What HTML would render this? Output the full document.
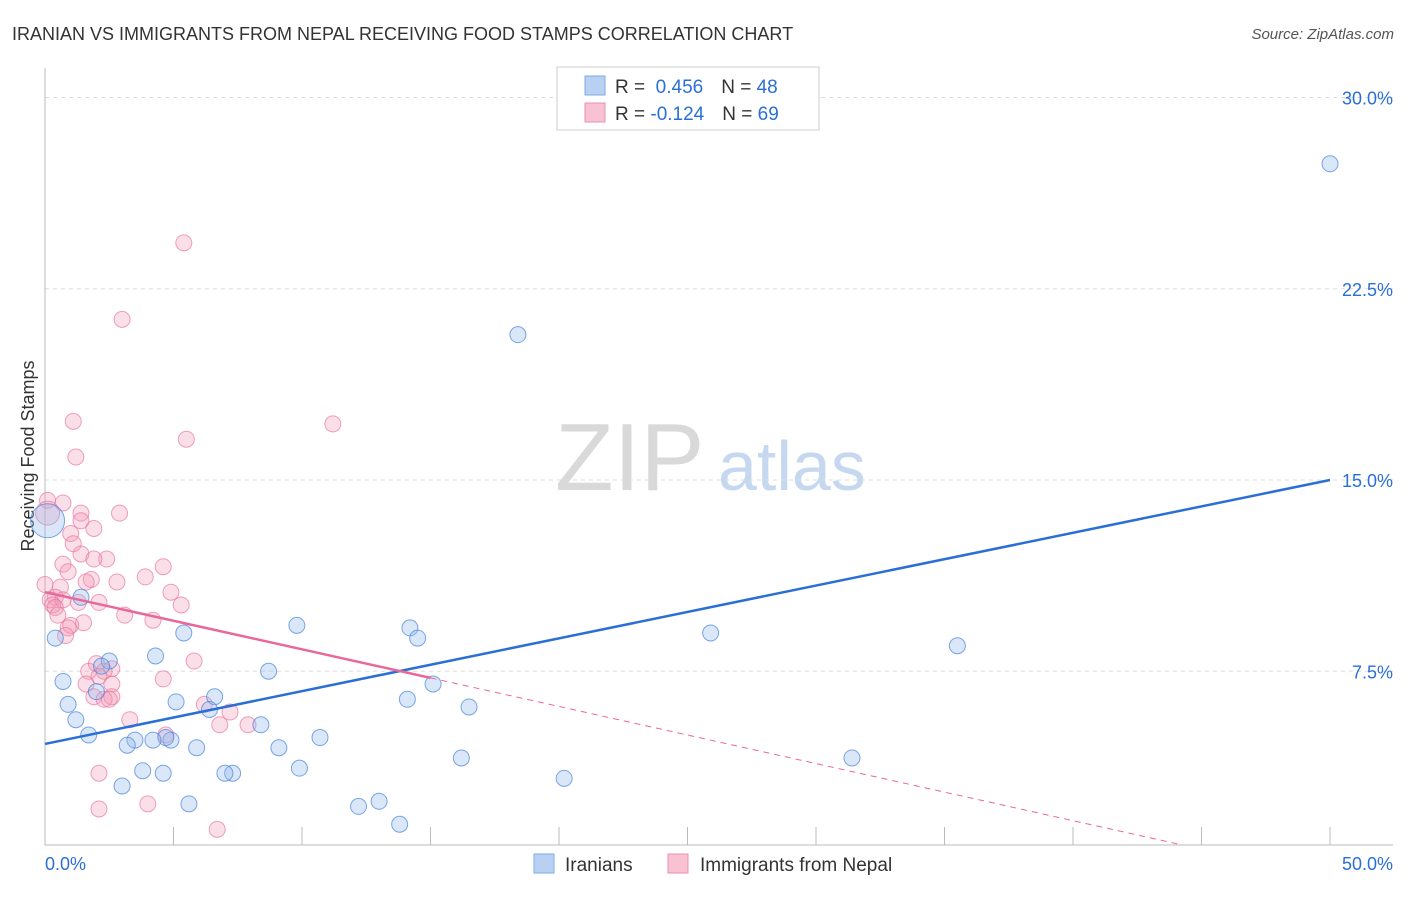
<!DOCTYPE html>
<html><head><meta charset="utf-8"><style>
body{margin:0;background:#fff;font-family:"Liberation Sans",sans-serif;}
svg text{font-family:"Liberation Sans",sans-serif;}
</style></head><body>
<svg id="chart" width="1406" height="892">
<text x="12" y="40" font-size="18" fill="#333">IRANIAN VS IMMIGRANTS FROM NEPAL RECEIVING FOOD STAMPS CORRELATION CHART</text>
<text x="1394" y="39" font-size="15" fill="#555" font-style="italic" text-anchor="end">Source: ZipAtlas.com</text>
<text x="555" y="490" font-size="96" fill="#d9d9d9" font-family="Liberation Serif">ZIP</text>
<text x="718" y="490" font-size="70" fill="#c6d8f0">atlas</text>
<text transform="translate(34,456) rotate(-90)" font-size="18" fill="#333" text-anchor="middle">Receiving Food Stamps</text>
<g id="grid"></g><g id="axes"></g><g id="pts"></g><g id="lines"></g>
<g>
<rect x="557" y="67" width="262" height="63" fill="#fff" stroke="#ccc"/>
<rect x="585" y="76" width="20" height="19" fill="#b8d0f2" stroke="#7fa8e0"/>
<rect x="585" y="103" width="20" height="19" fill="#f8c2d3" stroke="#ec8fb0"/>
<text x="615" y="93" font-size="19" fill="#333">R = <tspan fill="#2a6fd6">&#160;0.456</tspan><tspan dx="18">N = </tspan><tspan fill="#2a6fd6">48</tspan></text>
<text x="615" y="120" font-size="19" fill="#333">R = <tspan fill="#2a6fd6">-0.124</tspan><tspan dx="18">N = </tspan><tspan fill="#2a6fd6">69</tspan></text>
</g>
<g>
<rect x="534" y="854" width="20" height="19" fill="#b8d0f2" stroke="#7fa8e0"/>
<text x="565" y="871" font-size="19" fill="#333">Iranians</text>
<rect x="668" y="854" width="20" height="19" fill="#f8c2d3" stroke="#ec8fb0"/>
<text x="700" y="871" font-size="19" fill="#333">Immigrants from Nepal</text>
</g>
</svg>
<script>
const yTicks=[7.5,15,22.5,30];
const yTickLabels=["7.5%","15.0%","22.5%","30.0%"];
const xTicks=[0,5,10,15,20,25,30,35,40,45,50];
const iranX=[50.0,18.4,35.5,25.9,31.4,20.2,16.2,16.5,15.1,14.1,14.2,14.5,13.8,13.0,12.2,10.7,9.9,9.8,9.1,8.4,8.7,7.3,7.0,6.6,6.4,5.9,5.6,5.1,5.4,4.6,4.3,4.9,4.7,4.2,3.8,3.5,3.2,3.0,2.5,2.2,2.0,1.7,1.2,0.9,0.7,0.4,1.4,0.1];
const iranY=[27.4,20.7,8.5,9.0,4.1,3.3,4.1,6.1,7.0,6.4,9.2,8.8,1.5,2.4,2.2,4.9,3.7,9.3,4.5,5.4,7.5,3.5,3.5,6.5,6.0,4.5,2.3,6.3,9.0,3.5,8.1,4.8,4.9,4.8,3.6,4.8,4.6,3.0,7.9,7.7,6.7,5.0,5.6,6.2,7.1,8.8,10.4,13.4];
const nepX=[5.4,3.0,11.2,5.5,1.1,1.2,0.7,0.1,1.4,1.4,2.9,1.9,1.0,1.1,2.4,1.4,1.9,0.7,0.9,4.6,3.9,2.8,1.8,1.6,0.0,0.6,4.9,0.4,0.2,0.7,0.3,1.3,2.1,0.4,5.3,0.5,3.1,4.2,1.5,1.0,0.9,0.8,5.8,2.0,1.7,2.6,2.3,2.1,2.6,1.6,4.6,1.9,2.6,2.3,2.5,6.2,7.2,3.3,7.9,6.8,4.7,2.1,4.0,2.1,6.7,0.1];
const nepY=[24.3,21.3,17.2,16.6,17.3,15.9,14.1,14.2,13.7,13.4,13.7,13.1,12.9,12.5,11.9,12.1,11.9,11.7,11.4,11.6,11.2,11.0,11.1,11.0,10.9,10.8,10.6,10.4,10.3,10.3,10.1,10.2,10.2,10.0,10.1,9.7,9.7,9.5,9.4,9.3,9.2,8.9,7.9,7.8,7.5,7.6,7.5,7.3,7.0,7.0,7.2,6.5,6.5,6.4,6.4,6.2,5.9,5.6,5.4,5.4,5.0,3.5,2.3,2.1,1.3,13.7];
const iranLine=[4.65,15.0];
const nepLine=[10.6,-0.224];
const NS="http://www.w3.org/2000/svg";
const X=v=>45+v*25.7, Y=v=>862.5-v*25.5;
function mk(t,a,p){const e=document.createElementNS(NS,t);for(const k in a)e.setAttribute(k,a[k]);p.appendChild(e);return e;}
const grid=document.getElementById('grid'),axes=document.getElementById('axes'),pts=document.getElementById('pts'),lines=document.getElementById('lines');
yTicks.forEach((t,i)=>{const l=mk('line',{x1:45,x2:1393,y1:Y(t),y2:Y(t),stroke:'#ddd','stroke-dasharray':'4,4'},grid);


const tx=mk('text',{x:1393,y:Y(t)+7,'font-size':18,fill:'#2a6fd6','text-anchor':'end'},axes);tx.textContent=yTickLabels[i];

});
const ax=mk('line',{x1:45,x2:1393,y1:845,y2:845,stroke:'#bbb'},axes);


const ay=mk('line',{x1:45,x2:45,y1:68,y2:845,stroke:'#bbb'},axes);


xTicks.forEach(t=>{const l=mk('line',{x1:X(t),x2:X(t),y1:845,y2:827,stroke:'#bbb'},axes);

});
[[0,"0.0%",'start',45],[50,"50.0%",'end',1393]].forEach(d=>{const tx=mk('text',{x:d[3],y:870,'font-size':18,fill:'#2a6fd6','text-anchor':d[2]},axes);tx.textContent=d[1];

});
nepX.forEach((x,i)=>{const c=mk('circle',{cx:X(x),cy:Y(nepY[i]),r:i==nepX.length-1?12:8,fill:'rgba(243,150,180,0.3)',stroke:'rgba(232,120,160,0.7)','stroke-width':1},pts);

});
iranX.forEach((x,i)=>{const c=mk('circle',{cx:X(x),cy:Y(iranY[i]),r:i==iranX.length-1?17:8,fill:'rgba(150,185,235,0.35)',stroke:'rgba(70,130,220,0.7)','stroke-width':1},pts);

});
const bl=mk('line',{x1:X(0),y1:Y(iranLine[0]),x2:X(50),y2:Y(iranLine[1]),stroke:'#2a6fd6','stroke-width':2.5},lines);


const pl=mk('line',{x1:X(0),y1:Y(nepLine[0]),x2:X(15),y2:Y(nepLine[0]+nepLine[1]*15),stroke:'#e8689a','stroke-width':2.5},lines);


const yFloor=(862.5-845)/25.5;
const xe=(nepLine[0]-yFloor)/(-nepLine[1]);
const pd=mk('line',{x1:X(15),y1:Y(nepLine[0]+nepLine[1]*15),x2:X(xe),y2:Y(nepLine[0]+nepLine[1]*xe),stroke:'#e8689a','stroke-width':1,'stroke-dasharray':'6,5'},lines);


</script>
</body></html>
